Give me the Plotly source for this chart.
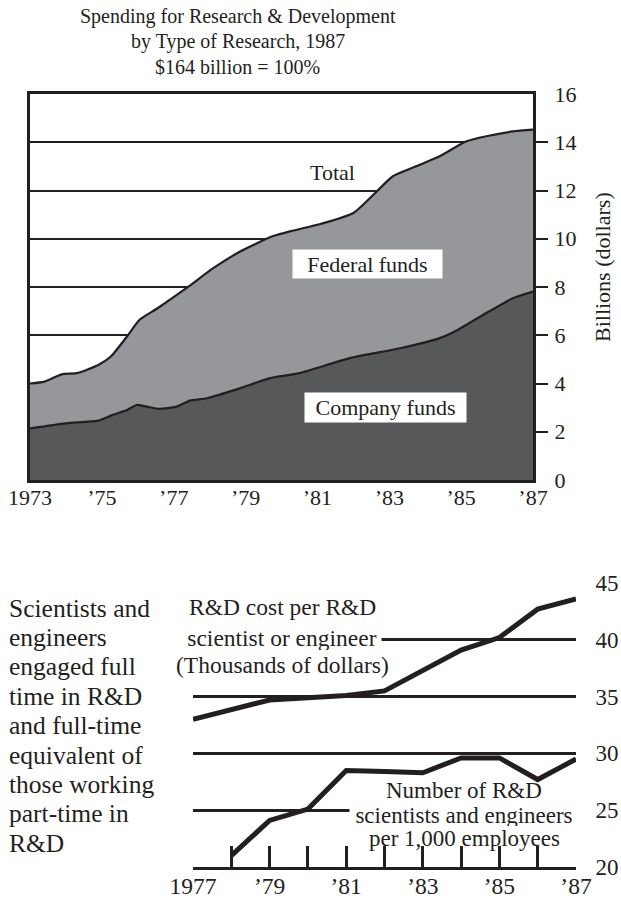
import plotly.graph_objects as go

# ---- Spending for R&D, billions of dollars ----
total_years = [1973, 1973.4, 1973.9, 1974.3, 1974.9, 1975.25, 1975.7, 1976.05, 1976.55,
               1977.35, 1978.1, 1978.85, 1979.75, 1980.3, 1981.1, 1982.0, 1982.65, 1983.1,
               1983.85, 1984.4, 1985.15, 1985.7, 1986.45, 1987]
total_vals = [4.0, 4.08, 4.39, 4.43, 4.77, 5.12, 5.95, 6.64, 7.12,
              7.95, 8.78, 9.47, 10.1, 10.33, 10.62, 11.07, 11.96, 12.59,
              13.07, 13.42, 14.04, 14.25, 14.45, 14.52]

company_years = [1973, 1974.0, 1974.9, 1975.3, 1975.7, 1975.97, 1976.25, 1976.6, 1977.08,
                 1977.45, 1977.92, 1978.84, 1979.68, 1980.5, 1981.9, 1983.3, 1984.4,
                 1984.9, 1985.7, 1986.45, 1987]
company_vals = [2.14, 2.35, 2.46, 2.70, 2.90, 3.11, 3.04, 2.95, 3.04,
                3.29, 3.39, 3.80, 4.22, 4.43, 5.05, 5.46, 5.88,
                6.22, 6.92, 7.54, 7.81]

top_tick_years = [1973, 1975, 1977, 1979, 1981, 1983, 1985, 1987]
top_tick_text = ["1973", "’75", "’77", "’79", "’81", "’83", "’85", "’87"]
billions_ticks = [0, 2, 4, 6, 8, 10, 12, 14, 16]

# ---- Scientists and engineers ----
cost_years = [1977, 1978, 1979, 1980, 1981, 1982, 1983, 1984, 1985, 1986, 1987]
cost_vals = [33.0, 33.8, 34.7, 34.9, 35.1, 35.5, 37.3, 39.1, 40.2, 42.7, 43.6]

sci_years = [1978, 1979, 1980, 1981, 1982, 1983, 1984, 1985, 1986, 1987]
sci_vals = [21.0, 24.1, 25.1, 28.5, 28.4, 28.3, 29.6, 29.6, 27.7, 29.5]

bottom_tick_years = list(range(1977, 1988))
bottom_tick_text = ["1977", "", "’79", "", "’81", "", "’83", "", "’85", "", "’87"]
bottom_y_ticks = [20, 25, 30, 35, 40, 45]

INK = "#231f20"
MID_GRAY = "#96979a"
DARK_GRAY = "#57585a"
FONT = "'Liberation Serif', 'Times New Roman', Times, 'DejaVu Serif', serif"

W, H = 621, 900


def px(x):
    return x / W


def py(y):
    return 1 - y / H


fig = go.Figure()

fig.add_trace(go.Scatter(
    x=total_years, y=total_vals, mode="lines", fill="tozeroy",
    fillcolor=MID_GRAY, line=dict(color=INK, width=2.2, shape="spline", smoothing=0.6),
    xaxis="x", yaxis="y", hoverinfo="skip", showlegend=False))
fig.add_trace(go.Scatter(
    x=company_years, y=company_vals, mode="lines", fill="tozeroy",
    fillcolor=DARK_GRAY, line=dict(color=INK, width=2.2, shape="spline", smoothing=0.6),
    xaxis="x", yaxis="y", hoverinfo="skip", showlegend=False))

# empty traces so the label-only overlay axes get drawn
fig.add_trace(go.Scatter(x=[], y=[], xaxis="x", yaxis="y3", hoverinfo="skip", showlegend=False))
fig.add_trace(go.Scatter(x=[], y=[], xaxis="x2", yaxis="y4", hoverinfo="skip", showlegend=False))

fig.add_trace(go.Scatter(
    x=cost_years, y=cost_vals, mode="lines", line=dict(color=INK, width=5),
    xaxis="x2", yaxis="y2", hoverinfo="skip", showlegend=False))
fig.add_trace(go.Scatter(
    x=sci_years, y=sci_vals, mode="lines", line=dict(color=INK, width=5),
    xaxis="x2", yaxis="y2", hoverinfo="skip", showlegend=False))

top_x_dom = [px(30), px(533)]
top_y_dom = [py(480), py(94)]
bot_x_dom = [px(193), px(576)]
bot_y_dom = [py(867), py(583)]

fig.update_layout(
    width=W, height=H,
    margin=dict(l=0, r=0, t=0, b=0, autoexpand=False),
    paper_bgcolor="white", plot_bgcolor="white",
    font=dict(family=FONT, color=INK),
    xaxis=dict(domain=top_x_dom, range=[1973, 1987], anchor="y", automargin=False,
               tickvals=top_tick_years, ticktext=top_tick_text,
               ticks="", ticklabelstandoff=-4,
               tickfont=dict(size=22, family=FONT, color=INK),
               showgrid=False, zeroline=False,
               showline=True, mirror=True, linecolor=INK, linewidth=2.5),
    yaxis=dict(domain=top_y_dom, range=[0, 16], anchor="x", side="right", automargin=False,
               tickvals=billions_ticks[1:-1], showticklabels=False,
               ticks="outside", ticklen=12, tickwidth=2, tickcolor=INK,
               showgrid=True, gridcolor=INK, gridwidth=2, zeroline=False,
               showline=True, mirror=True, linecolor=INK, linewidth=2.5),
    yaxis3=dict(overlaying="y", anchor="x", side="right", range=[0, 16], automargin=False,
                tickvals=billions_ticks, ticks="outside", ticklen=16,
                tickcolor="rgba(0,0,0,0)", showgrid=False, zeroline=False,
                showline=False, tickfont=dict(size=22, family=FONT, color=INK)),
    xaxis2=dict(domain=bot_x_dom, range=[1977, 1987], anchor="y2", automargin=False,
                tickvals=bottom_tick_years, ticktext=bottom_tick_text,
                ticks="inside", ticklen=21, tickwidth=2.5, tickcolor=INK,
                ticklabelstandoff=-4,
                tickfont=dict(size=23.5, family=FONT, color=INK),
                showgrid=False, zeroline=False,
                showline=True, linecolor=INK, linewidth=3),
    yaxis2=dict(domain=bot_y_dom, range=[20, 45], anchor="x2", side="right", automargin=False,
                tickvals=bottom_y_ticks[1:], ticktext=[str(v) for v in bottom_y_ticks[1:]],
                ticks="outside", ticklen=14, tickcolor="rgba(0,0,0,0)",
                tickfont=dict(size=23, family=FONT, color=INK),
                showgrid=True, gridcolor=INK, gridwidth=2.5, zeroline=False,
                showline=False),
    yaxis4=dict(overlaying="y2", anchor="x2", side="right", range=[20, 45], automargin=False,
                tickvals=[bottom_y_ticks[0]], ticktext=[str(bottom_y_ticks[0])],
                ticks="outside", ticklen=14, tickcolor="rgba(0,0,0,0)",
                tickfont=dict(size=23, family=FONT, color=INK),
                showgrid=False, zeroline=False, showline=False),
)

annotations = []


def text(t, x, y, size, xanchor="center", bg=None, width=None, height=None, angle=0):
    a = dict(text=t, x=px(x), y=py(y), xref="paper", yref="paper",
             xanchor=xanchor, yanchor="middle", showarrow=False,
             font=dict(size=size, family=FONT, color=INK), textangle=angle)
    if bg:
        a["bgcolor"] = bg
        a["borderpad"] = 0
    if width:
        a["width"] = width
    if height:
        a["height"] = height
    annotations.append(a)


# Title
text("Spending for Research &amp; Development", 237.5, 17, 20)
text("by Type of Research, 1987", 237.5, 42, 20)
text("$164 billion = 100%", 237.5, 67, 20)

# Area labels
text("Total", 332, 173, 22)
text("Federal funds", 367.5, 264, 22, bg="white", width=149, height=28)
text("Company funds", 385.5, 407.5, 22, bg="white", width=161, height=29)
text("Billions (dollars)", 603, 267, 22, angle=-90)

# Lower chart labels
text("R&amp;D cost per R&amp;D", 282, 607, 23.5)
text("scientist or engineer", 282, 638, 23.5, bg="white", width=198, height=24)
text("(Thousands of dollars)", 282, 665, 23.5)

text("Number of R&amp;D", 464, 790, 23)
text("scientists and engineers", 464, 815, 23, bg="white", width=228, height=22)
text("per 1,000 employees", 464, 838, 23)

left_lines = ["Scientists and", "engineers", "engaged full", "time in R&amp;D",
              "and full-time", "equivalent of", "those working", "part-time in", "R&amp;D"]
for i, line in enumerate(left_lines):
    text(line, 7, 608 + i * 29.4, 25.5, xanchor="left")

fig.update_layout(annotations=annotations)

fig.write_html("out.html")
